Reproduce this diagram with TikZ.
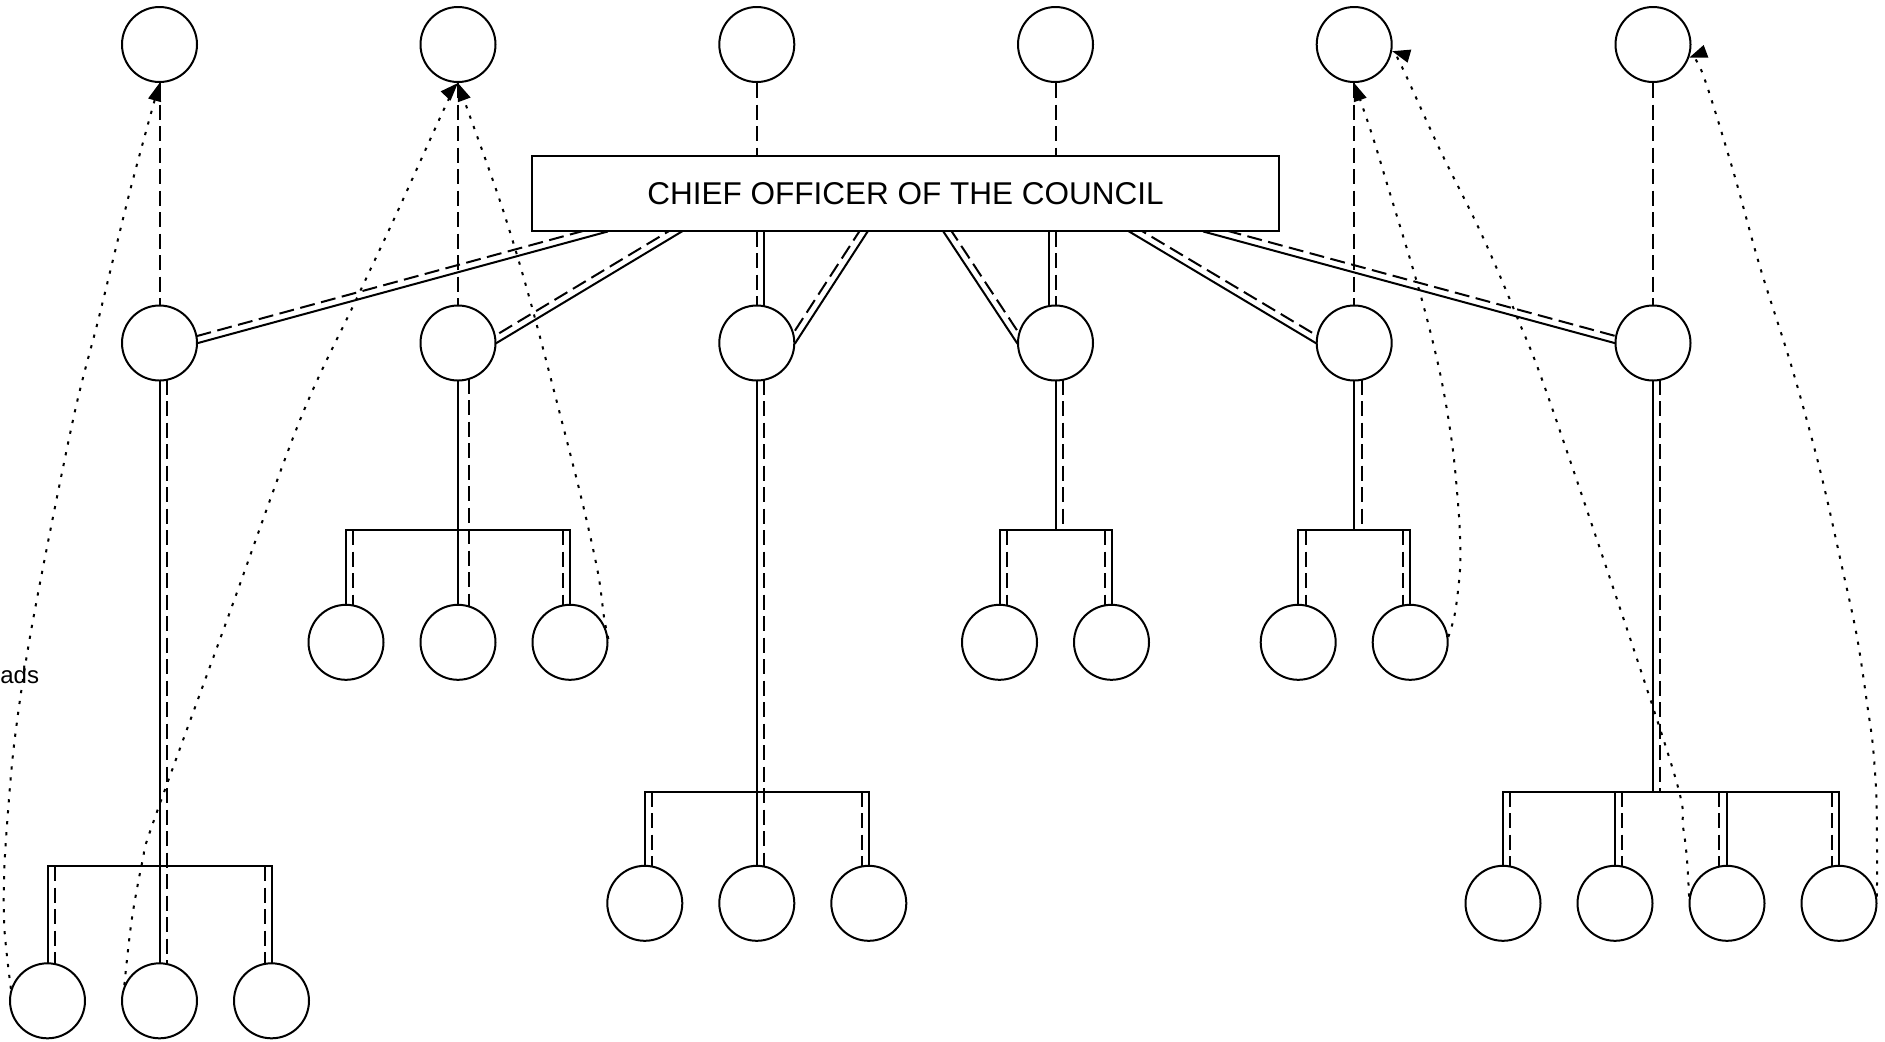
\documentclass[tikz,border=0pt]{standalone}
\usepackage{fontspec}
\setmainfont{Liberation Sans}
\usetikzlibrary{arrows.meta,calc}
\pgfdeclarelayer{bg}
\pgfsetlayers{bg,main}
\begin{document}
\begin{tikzpicture}[x=0.5pt,y=-0.5pt,
  circ/.style={circle,draw,line width=1pt,fill=white,minimum size=37.5pt,inner sep=0pt},
  boxn/.style={rectangle,draw,line width=1pt,fill=white,minimum width=373.5pt,minimum height=37.35pt,inner sep=0pt,font=\fontsize{15.75pt}{18pt}\selectfont},
  sl/.style={line width=1pt,line cap=rect},
  dl/.style={line width=1pt,dash pattern=on 7.5pt off 3.25pt},
  dotl/.style={line width=1pt,dash pattern=on 1.6pt off 3.9pt},
  arr/.style={-{Triangle[length=9pt,width=6.5pt]}},
  lbl/.style={font=\fontsize{12pt}{14pt}\selectfont,inner sep=0pt}]
\useasboundingbox (0,0) rectangle (1885,1041);
% top row
\node[circ] (t1) at (159.5,44.5) {};
\node[circ] (t2) at (458,44.5) {};
\node[circ] (t3) at (756.8,44.5) {};
\node[circ] (t4) at (1055.5,44.5) {};
\node[circ] (t5) at (1354.2,44.5) {};
\node[circ] (t6) at (1653,44.5) {};
% box
\node[boxn] (box) at (905.5,193.35) {CHIEF OFFICER OF THE COUNCIL};
% middle row
\node[circ] (m1) at (159.5,343) {};
\node[circ] (m2) at (458,343) {};
\node[circ] (m3) at (756.8,343) {};
\node[circ] (m4) at (1055.5,343) {};
\node[circ] (m5) at (1354.2,343) {};
\node[circ] (m6) at (1653,343) {};
% children
\node[circ] (c1a) at (47.5,1000.8) {};
\node[circ] (c1b) at (159.5,1000.8) {};
\node[circ] (c1c) at (271.5,1000.8) {};
\node[circ] (c2a) at (346,642.3) {};
\node[circ] (c2b) at (458,642.3) {};
\node[circ] (c2c) at (570,642.3) {};
\node[circ] (c3a) at (644.8,903.3) {};
\node[circ] (c3b) at (756.8,903.3) {};
\node[circ] (c3c) at (868.8,903.3) {};
\node[circ] (c4a) at (999.5,642.3) {};
\node[circ] (c4b) at (1111.5,642.3) {};
\node[circ] (c5a) at (1298.2,642.3) {};
\node[circ] (c5b) at (1410.2,642.3) {};
\node[circ] (c6a) at (1503,903.3) {};
\node[circ] (c6b) at (1615,903.3) {};
\node[circ] (c6c) at (1727,903.3) {};
\node[circ] (c6d) at (1839,903.3) {};
% bar levels
\coordinate (b1) at (0,866);
\coordinate (b2) at (0,530);
\coordinate (b3) at (0,791.7);
% label
\node[lbl,anchor=base west] (ads) at (0,683) {ads};
\begin{pgfonlayer}{bg}
\fill[white] (0,0) rectangle (1885,1041);
% top dashed connectors
\draw[dl] (t1.south) -- (m1.north);
\draw[dl] (t2.south) -- (m2.north);
\draw[dl] (t3.south) -- (t3 |- box.north);
\draw[dl] (t4.south) -- (t4 |- box.north);
\draw[dl] (t5.south) -- (m5.north);
\draw[dl] (t6.south) -- (m6.north);
% box to middle row
\draw[sl] ($(box.south)+(-298.5,0)$) -- (m1.east);
\draw[dl] ($(box.south)+(-300.35,-6.75)$) -- ($(m1.east)+(-1.85,-6.75)$);
\draw[sl] ($(box.south)+(-224,0)$) -- (m2.east);
\draw[dl] ($(box.south)+(-227.6,-6)$) -- ($(m2.east)+(-3.6,-6)$);
\draw[sl] ($(box.south)+(-38,0)$) -- (m3.east);
\draw[dl] ($(box.south)+(-43.9,-3.8)$) -- ($(m3.east)+(-5.9,-3.8)$);
\draw[dl] (m3 |- box.south) -- (m3.north);
\draw[sl] ($(m3 |- box.south)+(7,0)$) -- ($(m3.north)+(7,3)$);
\draw[sl] ($(box.south)+(38,0)$) -- (m4.west);
\draw[dl] ($(box.south)+(43.9,-3.8)$) -- ($(m4.west)+(5.9,-3.8)$);
\draw[dl] (m4 |- box.south) -- (m4.north);
\draw[sl] ($(m4 |- box.south)+(-7,0)$) -- ($(m4.north)+(-7,3)$);
\draw[sl] ($(box.south)+(224,0)$) -- (m5.west);
\draw[dl] ($(box.south)+(227.6,-6)$) -- ($(m5.west)+(3.6,-6)$);
\draw[sl] ($(box.south)+(298.5,0)$) -- (m6.west);
\draw[dl] ($(box.south)+(300.35,-6.75)$) -- ($(m6.west)+(1.85,-6.75)$);
% column 1
\draw[sl] (m1.south) -- (c1b.north);
\draw[dl] ($(m1.south)+(7,-2)$) -- ($(c1b.north)+(7,2)$);
\draw[sl] (c1a |- b1) -- (c1c |- b1);
\draw[sl] (c1a |- b1) -- (c1a.north);
\draw[dl] ($(c1a |- b1)+(7,0)$) -- ($(c1a.north)+(7,2)$);
\draw[sl] (c1c |- b1) -- (c1c.north);
\draw[dl] ($(c1c |- b1)+(-7,0)$) -- ($(c1c.north)+(-7,2)$);
% column 2
\draw[sl] (m2.south) -- (c2b.north);
\draw[dl] ($(m2.south)+(11,-3)$) -- ($(c2b.north)+(11,3)$);
\draw[sl] (c2a |- b2) -- (c2c |- b2);
\draw[sl] (c2a |- b2) -- (c2a.north);
\draw[dl] ($(c2a |- b2)+(7,0)$) -- ($(c2a.north)+(7,2)$);
\draw[sl] (c2c |- b2) -- (c2c.north);
\draw[dl] ($(c2c |- b2)+(-7,0)$) -- ($(c2c.north)+(-7,2)$);
% column 3
\draw[sl] (m3.south) -- (c3b.north);
\draw[dl] ($(m3.south)+(7,-2)$) -- ($(c3b.north)+(7,2)$);
\draw[sl] (c3a |- b3) -- (c3c |- b3);
\draw[sl] (c3a |- b3) -- (c3a.north);
\draw[dl] ($(c3a |- b3)+(7,0)$) -- ($(c3a.north)+(7,2)$);
\draw[sl] (c3c |- b3) -- (c3c.north);
\draw[dl] ($(c3c |- b3)+(-7,0)$) -- ($(c3c.north)+(-7,2)$);
% column 4
\draw[sl] (m4.south) -- (m4 |- b2);
\draw[dl] ($(m4.south)+(7,-2)$) -- ($(m4 |- b2)+(7,0)$);
\draw[sl] (c4a |- b2) -- (c4b |- b2);
\draw[sl] (c4a |- b2) -- (c4a.north);
\draw[dl] ($(c4a |- b2)+(7,0)$) -- ($(c4a.north)+(7,2)$);
\draw[sl] (c4b |- b2) -- (c4b.north);
\draw[dl] ($(c4b |- b2)+(-7,0)$) -- ($(c4b.north)+(-7,2)$);
% column 5
\draw[sl] (m5.south) -- (m5 |- b2);
\draw[dl] ($(m5.south)+(7.7,-2)$) -- ($(m5 |- b2)+(7.7,0)$);
\draw[sl] (c5a |- b2) -- (c5b |- b2);
\draw[sl] (c5a |- b2) -- (c5a.north);
\draw[dl] ($(c5a |- b2)+(8,0)$) -- ($(c5a.north)+(8,2)$);
\draw[sl] (c5b |- b2) -- (c5b.north);
\draw[dl] ($(c5b |- b2)+(-7.7,0)$) -- ($(c5b.north)+(-7.7,2)$);
% column 6
\draw[sl] (m6.south) -- (m6 |- b3);
\draw[dl] ($(m6.south)+(7,-2)$) -- ($(m6 |- b3)+(7,0)$);
\draw[sl] (c6a |- b3) -- (c6d |- b3);
\draw[sl] (c6a |- b3) -- (c6a.north);
\draw[dl] ($(c6a |- b3)+(7.4,0)$) -- ($(c6a.north)+(7.4,2)$);
\draw[sl] (c6b |- b3) -- (c6b.north);
\draw[dl] ($(c6b |- b3)+(7.3,0)$) -- ($(c6b.north)+(7.3,2)$);
\draw[sl] (c6c |- b3) -- (c6c.north);
\draw[dl] ($(c6c |- b3)+(-7.7,0)$) -- ($(c6c.north)+(-7.7,2)$);
\draw[sl] (c6d |- b3) -- (c6d.north);
\draw[dl] ($(c6d |- b3)+(-7.3,0)$) -- ($(c6d.north)+(-7.3,2)$);
\end{pgfonlayer}
% dotted connectors
\draw[dotl,arr] plot[smooth,tension=0.55] coordinates {(c1a.162) (4.5,930) (4,880) (7,825) (15,737) (33,620) (73,420) (99,317) (131,187) (t1.south)};
\draw[dotl,arr] plot[smooth,tension=0.55] coordinates {(c1b.156) (131.7,920) (142.7,860) (153,823) (227,620) (300,420) (356,300) (395,217) (445,107) (t2.south)};
\draw[dotl,arr] plot[smooth,tension=0.55] coordinates {(c2c.5) (604,617) (598,573) (583,505) (561.5,420) (530,300) (502,207) (466.6,107) (t2.south)};
\draw[dotl,arr] plot[smooth,tension=0.55] coordinates {(c5b.8) (1455,613) (1460,570) (1460,537) (1458,503) (1452,443) (1440,373) (1420,293) (1388,187) (1371.5,133) (t5.south)};
\draw[dotl,arr] plot[smooth,tension=0.55] coordinates {(c6c.170) (1687,860) (1683,827) (1670,760) (1553.8,413) (1517,317) (1481,233) (1440,150) (1402,67) (t5.-10)};
\draw[dotl,arr] plot[smooth,tension=0.55] coordinates {(c6d.10) (1877,860) (1876.5,800) (1873,747) (1868,710) (1857,637) (1842,567) (1820,470) (1792,368) (1760,267) (1732,167) (1702,72) (t6.-20)};
\end{tikzpicture}
\end{document}
